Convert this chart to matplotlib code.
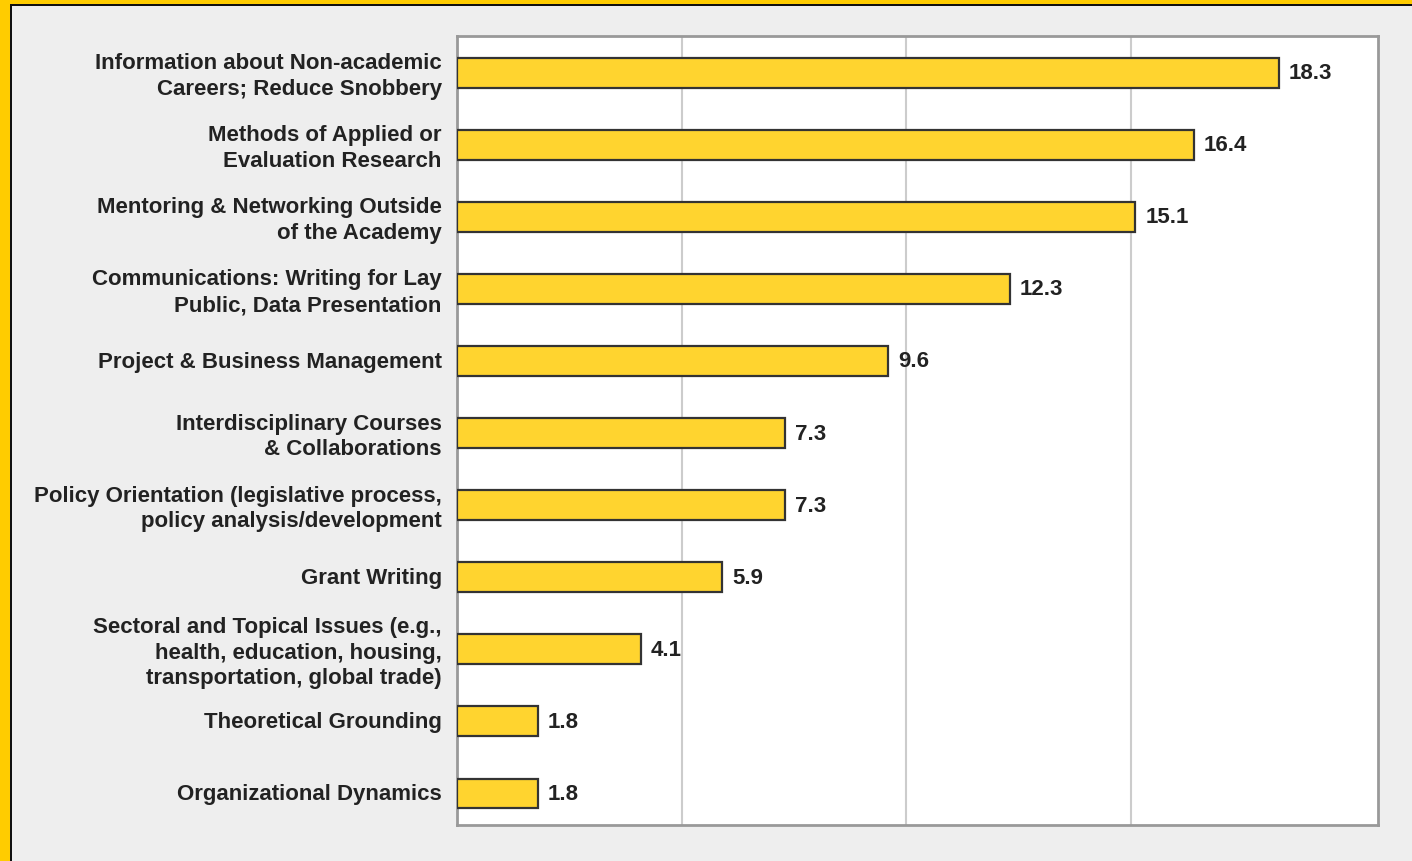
import matplotlib
matplotlib.use("Agg")
import matplotlib.pyplot as plt
from matplotlib.patches import Rectangle
import matplotlib.transforms as mtransforms

categories = [
    "Information about Non-academic\nCareers; Reduce Snobbery",
    "Methods of Applied or\nEvaluation Research",
    "Mentoring & Networking Outside\nof the Academy",
    "Communications: Writing for Lay\nPublic, Data Presentation",
    "Project & Business Management",
    "Interdisciplinary Courses\n& Collaborations",
    "Policy Orientation (legislative process,\npolicy analysis/development",
    "Grant Writing",
    "Sectoral and Topical Issues (e.g.,\nhealth, education, housing,\ntransportation, global trade)",
    "Theoretical Grounding",
    "Organizational Dynamics",
]
values = [18.3, 16.4, 15.1, 12.3, 9.6, 7.3, 7.3, 5.9, 4.1, 1.8, 1.8]
value_labels = ["18.3", "16.4", "15.1", "12.3", "9.6", "7.3", "7.3", "5.9", "4.1", "1.8", "1.8"]

plt.rcParams['font.family'] = ['Liberation Sans', 'DejaVu Sans']

W, H = 1412, 862
fig = plt.figure(figsize=(W / 100, H / 100), dpi=100)
fig.patch.set_facecolor("#EEEEEE")

# gold frame on top/left with thin black inner line
fig.patches.append(Rectangle((0, 1 - 5 / H), 1, 5 / H, transform=fig.transFigure,
                             facecolor="#FFCC00", edgecolor="none", zorder=0))
fig.patches.append(Rectangle((0, 0), 9.5 / W, 1, transform=fig.transFigure,
                             facecolor="#FFCC00", edgecolor="none", zorder=0))
fig.patches.append(Rectangle((9.5 / W, 0), 2.5 / W, 1 - 5 / H, transform=fig.transFigure,
                             facecolor="#111111", edgecolor="none", zorder=0))
fig.patches.append(Rectangle((9.5 / W, 1 - 7 / H), 1, 2 / H, transform=fig.transFigure,
                             facecolor="#111111", edgecolor="none", zorder=0))

left, right, top, bottom = 457, 1378, 37, 826
ax = fig.add_axes([left / W, 1 - bottom / H, (right - left) / W, (bottom - top) / H])
ax.set_facecolor("white")

y = list(range(len(categories)))
ax.barh(y, values, height=0.41, color="#FFD42F", edgecolor="#333333", linewidth=1.6, zorder=3)
for yi, v, lab in zip(y, values, value_labels):
    ax.text(v + 0.22, yi, lab, va="center", ha="left", fontsize=16,
            fontweight="bold", color="#222222", zorder=4)

ax.set_xlim(0, 20.5)
ax.set_ylim(10.44, -0.51)
ax.set_xticks([5, 10, 15])
ax.set_xticklabels([])
ax.tick_params(axis="x", length=0)
ax.grid(axis="x", color="#CCCCCC", linewidth=1.5, zorder=0)
ax.set_yticks(y)
ax.set_yticklabels(categories, fontsize=16, fontweight="bold", color="#222222",
                   linespacing=1.3)
ax.tick_params(axis="y", length=0, pad=11)
shift = mtransforms.ScaledTranslation(0, 2 / 100, fig.dpi_scale_trans)
for t in ax.get_yticklabels():
    t.set_transform(t.get_transform() + shift)
for s in ax.spines.values():
    s.set_color("#999999")
    s.set_linewidth(2)

fig.savefig("out.png", dpi=100, facecolor=fig.get_facecolor())
